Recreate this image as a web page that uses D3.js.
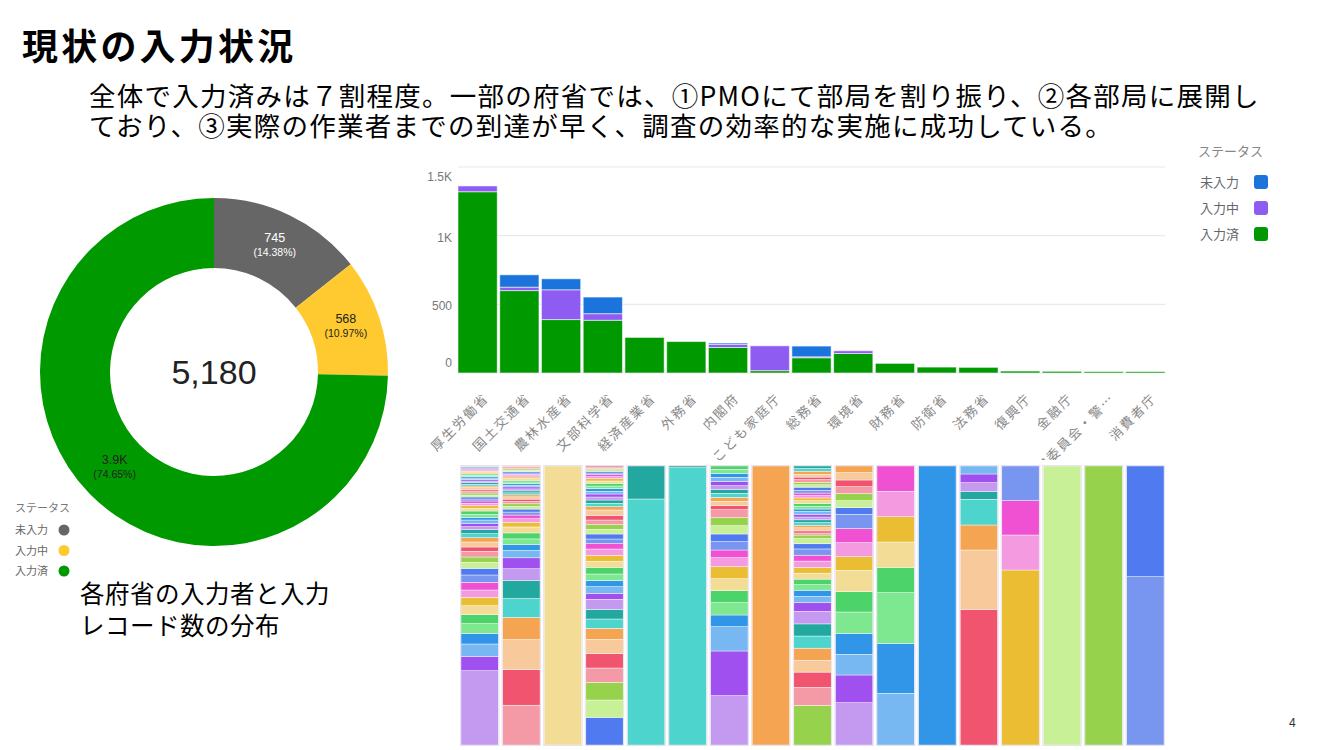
<!DOCTYPE html>
<html>
<head>
<meta charset="utf-8">
<script src="https://cdn.jsdelivr.net/npm/d3@7"></script>
<style>
body{margin:0;background:#fff}
svg{display:block}
text{font-family:"Noto Sans CJK JP","Noto Sans",sans-serif}
.num{font-family:"Liberation Sans",Arial,sans-serif}
</style>
</head>
<body>
<svg id="slide" width="1334" height="750"></svg>
<script>
// slide texts
var slideTitle = "現状の入力状況";
var summaryLines = ["全体で入力済みは７割程度。一部の府省では、①PMOにて部局を割り振り、②各部局に展開し",
  "ており、③実際の作業者までの到達が早く、調査の効率的な実施に成功している。"];
var noteLines = ["各府省の入力者と入力", "レコード数の分布"];
var legendTitle = "ステータス";
var pageNo = "4";

// donut: overall status
var statusNames = ["未入力", "入力中", "入力済"];
var statusTotals = [745, 568, 3867];
var donutColors = ["#666666", "#ffca30", "#009900"];

// stacked bars: status by ministry
var ministries = ["厚生労働省", "国土交通省", "農林水産省", "文部科学省", "経済産業省", "外務省", "内閣府",
  "こども家庭庁", "総務省", "環境省", "財務省", "防衛省", "法務省", "復興庁", "金融庁", "国家公安委員会・警…", "消費者庁"];
var doneCounts     = [1320, 600, 389, 384, 259, 229, 186, 17, 111, 142, 70, 43, 41, 14, 12, 10, 10];
var progressCounts = [42, 25, 217, 48, 0, 0, 22, 181, 7, 20, 0, 0, 0, 0, 0, 0, 0];
var pendingCounts  = [0, 90, 80, 121, 0, 0, 10, 0, 78, 0, 0, 0, 0, 0, 0, 0, 0];
var barColors = {done: "#009900", progress: "#8f5cf2", pending: "#1a74dc"};
var yTicks = [0, 500, 1000, 1500];

// 100% columns: records per inputter (bottom to top), per ministry
var personPalette = ["#c39af0", "#a050ef", "#78b8f2", "#3296e8", "#7ee890", "#4cd46a", "#f3dc96", "#ebbd32",
  "#f49ae0", "#f050d2", "#7896f0", "#507af0", "#c8f096", "#96d24b", "#f49aa6", "#f0546e",
  "#f8c99a", "#f5a452", "#4dd4cc", "#23a8a0"];
var paletteStart = [0, 14, 6, 11, 18, 18, 0, 17, 13, 0, 2, 3, 15, 7, 12, 13, 10];
var inputterRecords = [
  [223,43,37,32,29,27,27,25,22,23,22,20,18,16,17,13,15,13,12,12,9,9,11,8,9,10,8,8,7,7,6,6,6,6,6,5,5,5,5,5,5,5,4,4,4,4,4,4,4,3,3,3,3],
  [120,108,90,67,57,55,35,33,22,18,17,18,18,14,11,11,9,9,8,8,7,7,7,6,6,6,6,6,5,5,5,5,5,5,4,4,4,4,4,4,3,3,3],
  [1],
  [83,52,53,43,43,43,33,28,29,30,18,20,18,20,20,18,18,19,16,14,15,14,14,14,14,16,10,10,10,9,9,8,8,8,8,7,7,6,6,5,5,5,4,4,3],
  [738,99],
  [833,5],
  [148,134,73,35,37,36,36,36,27,23,25,23,25,24,24,12,13,12,12,12,11,13,12,12,12,10],
  [1],
  [114,52,44,34,35,35,35,36,25,18,18,16,16,17,17,18,17,18,15,15,10,6,6,9,7,8,8,8,8,8,7,8,8,8,8,7,7,8,9,7,7,8,7,8,9,8,7],
  [127,83,62,63,64,61,64,41,42,42,43,20,21,21,21,20,22,20],
  [155,150,152,76,76,76,76,76],
  [1],
  [407,178,75,77,23,27,26,24],
  [525,105,103,104],
  [1],
  [1],
  [505,332]
];

var svg = d3.select("#slide");

// ---- header texts
svg.append("text").text(slideTitle)
  .attr("x", 22).attr("y", 60)
  .attr("font-size", 36).attr("font-weight", 700).attr("letter-spacing", 3.2).attr("fill", "#000");

svg.selectAll(".summary").data(summaryLines).enter().append("text")
  .attr("class", "summary")
  .attr("x", 89).attr("y", (d, i) => 106 + i * 30)
  .attr("font-size", 26.5).attr("letter-spacing", 1.25).attr("fill", "#000")
  .text(d => d);

svg.selectAll(".note").data(noteLines).enter().append("text")
  .attr("class", "note")
  .attr("x", 80).attr("y", (d, i) => 603 + i * 32)
  .attr("font-size", 24.5).attr("letter-spacing", 0.5).attr("fill", "#000")
  .text(d => d);

svg.append("text").text(pageNo).attr("class", "num")
  .attr("x", 1289).attr("y", 727).attr("font-size", 12).attr("fill", "#333");

// ---- donut
var total = d3.sum(statusTotals);
var pieData = d3.pie().sort(null).value(d => d)(statusTotals);
var arc = d3.arc().innerRadius(104).outerRadius(174);
var donut = svg.append("g").attr("transform", "translate(214,372)");

donut.selectAll("path").data(pieData).enter().append("path")
  .attr("d", arc)
  .attr("fill", (d, i) => donutColors[i]);

function shortNum(v) {
  return v >= 1000 ? d3.format(".2~s")(v).replace("k", "K") : String(v);
}

var lab = donut.selectAll(".slab").data(pieData).enter().append("g")
  .attr("class", "slab")
  .attr("transform", d => { var c = arc.centroid(d); return "translate(" + c[0] + "," + (c[1] - 3) + ")"; });
lab.append("text").attr("class", "num")
  .attr("text-anchor", "middle").attr("y", -2)
  .attr("font-size", 12.5)
  .attr("fill", (d, i) => i === 0 ? "#fff" : "#222")
  .text(d => shortNum(d.value));
lab.append("text").attr("class", "num")
  .attr("text-anchor", "middle").attr("y", 12)
  .attr("font-size", 10.5)
  .attr("fill", (d, i) => i === 0 ? "#fff" : "#222")
  .text(d => "(" + d3.format(".2f")(d.value / total * 100) + "%)");

donut.append("text").attr("class", "num")
  .attr("text-anchor", "middle").attr("y", 12)
  .attr("font-size", 34).attr("fill", "#222")
  .text(d3.format(",")(total));

// donut legend
var dLeg = svg.append("g").attr("transform", "translate(15,508)");
dLeg.append("text").text(legendTitle).attr("y", 4).attr("font-size", 11).attr("fill", "#777");
var dItem = dLeg.selectAll(".di").data(statusNames).enter().append("g")
  .attr("class", "di")
  .attr("transform", (d, i) => "translate(0," + (22 + i * 20.5) + ")");
dItem.append("text").text(d => d).attr("y", 4).attr("font-size", 11).attr("fill", "#666");
dItem.append("circle").attr("cx", 49).attr("r", 5.5).attr("fill", (d, i) => donutColors[i]);

// ---- stacked bar chart
var x = d3.scaleBand().domain(ministries).range([458, 1165]).paddingInner(0.06).paddingOuter(0);
var y = d3.scaleLinear().domain([0, 1500]).range([373, 167]);

svg.append("g").selectAll("line").data(yTicks).enter().append("line")
  .attr("x1", 458).attr("x2", 1165)
  .attr("y1", d => y(d)).attr("y2", d => y(d))
  .attr("stroke", "#e6e9ee").attr("stroke-width", 1.2);

svg.append("g").selectAll("text").data(yTicks).enter().append("text")
  .attr("class", "num")
  .attr("x", 452).attr("text-anchor", "end")
  .attr("y", d => Math.max(181, Math.min(367, y(d) + 6)))
  .attr("font-size", 12).attr("fill", "#777")
  .text(d => d >= 1000 ? shortNum(d) : d);

var rows = ministries.map((m, i) => ({name: m, done: doneCounts[i], progress: progressCounts[i], pending: pendingCounts[i]}));
var series = d3.stack().keys(["done", "progress", "pending"])(rows);

svg.append("g").selectAll("g").data(series).enter().append("g")
  .attr("fill", d => barColors[d.key])
  .selectAll("rect").data(d => d.filter(s => s[1] > s[0])).enter().append("rect")
  .attr("x", d => x(d.data.name))
  .attr("width", x.bandwidth())
  .attr("y", d => y(d[1]))
  .attr("height", d => y(d[0]) - y(d[1]))
  .attr("stroke", "rgba(255,255,255,0.55)").attr("stroke-width", 1);

svg.append("g").selectAll("text").data(ministries).enter().append("text")
  .attr("text-anchor", "end")
  .attr("transform", d => "translate(" + (x(d) + x.bandwidth() / 2 + 12) + ",399) rotate(-45)")
  .attr("font-size", 13).attr("letter-spacing", 2).attr("fill", "#888")
  .text(d => d);

// bar legend
var bLeg = svg.append("g").attr("transform", "translate(1198,152)");
bLeg.append("text").text(legendTitle).attr("y", 4).attr("font-size", 13).attr("fill", "#888");
var statusKeys = ["pending", "progress", "done"];
var bItem = bLeg.selectAll(".bi").data(statusNames).enter().append("g")
  .attr("class", "bi")
  .attr("transform", (d, i) => "translate(0," + (30 + i * 26) + ")");
bItem.append("text").text(d => d).attr("x", 2).attr("y", 5).attr("font-size", 13).attr("fill", "#666");
bItem.append("rect").attr("x", 56).attr("y", -7).attr("width", 14).attr("height", 14).attr("rx", 3)
  .attr("fill", (d, i) => barColors[statusKeys[i]]);

// ---- 100% columns of inputters
svg.append("rect").attr("x", 440).attr("y", 460).attr("width", 740).attr("height", 290).attr("fill", "#fff");

var xb = d3.scaleBand().domain(ministries).range([461, 1164]).paddingInner(0.1).paddingOuter(0);
var cols = svg.append("g");
ministries.forEach(function (m, i) {
  var vals = inputterRecords[i];
  var cum = d3.cumsum(vals);
  var ys = d3.scaleLinear().domain([0, d3.sum(vals)]).range([745, 466]);
  cols.append("g").selectAll("rect").data(vals).enter().append("rect")
    .attr("x", xb(m))
    .attr("width", xb.bandwidth())
    .attr("y", (v, k) => ys(cum[k]))
    .attr("height", (v, k) => ys(cum[k] - v) - ys(cum[k]))
    .attr("fill", (v, k) => personPalette[(paletteStart[i] + k) % personPalette.length])
    .attr("stroke", "rgba(255,255,255,0.7)").attr("stroke-width", 0.6);
  cols.append("rect")
    .attr("x", xb(m) - 0.5).attr("y", 465.5)
    .attr("width", xb.bandwidth() + 1).attr("height", 280)
    .attr("fill", "none").attr("stroke", "#e6e2f0").attr("stroke-width", 1);
});
</script>
</body>
</html>
